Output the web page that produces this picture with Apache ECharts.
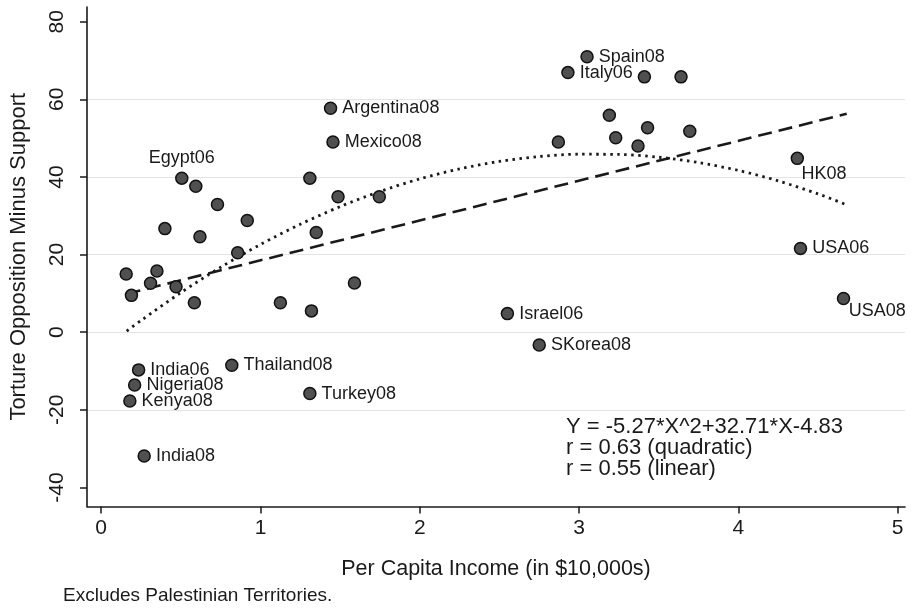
<!DOCTYPE html>
<html>
<head>
<meta charset="utf-8">
<script src="https://cdn.jsdelivr.net/npm/echarts@6/dist/echarts.min.js"></script>
<style>
  html, body { margin: 0; padding: 0; background: #fff; }
  #chart { width: 912px; height: 608px; }
</style>
</head>
<body>
<div id="chart"></div>
<script>
// ---- data ----
const pointX = [0.157, 0.19, 0.35, 0.31, 0.47, 0.585, 0.40, 0.506, 0.594, 0.73, 0.62, 0.917, 0.857,
  1.125, 1.32, 1.31, 1.35, 1.487, 1.59, 1.746, 1.455, 1.44, 2.55, 2.75,
  0.235, 0.21, 0.18, 0.82, 1.31, 0.27,
  3.05, 2.93, 3.41, 3.64, 3.19, 3.43, 3.695, 3.23, 2.87, 3.37,
  4.37, 4.39, 4.66];
const pointY = [15, 9.5, 15.8, 12.6, 11.7, 7.6, 26.7, 39.7, 37.6, 32.9, 24.6, 28.8, 20.5,
  7.6, 5.5, 39.7, 25.7, 34.9, 12.7, 34.9, 49.0, 57.7, 4.8, -3.3,
  -9.7, -13.6, -17.7, -8.5, -15.8, -31.9,
  71.0, 66.9, 65.8, 65.8, 55.9, 52.7, 51.8, 50.1, 49.0, 48.0,
  44.8, 21.6, 8.7];
const pointName = ['', '', '', '', '', '', '', 'Egypt06', '', '', '', '', '',
  '', '', '', '', '', '', '', 'Mexico08', 'Argentina08', 'Israel06', 'SKorea08',
  'India06', 'Nigeria08', 'Kenya08', 'Thailand08', 'Turkey08', 'India08',
  'Spain08', 'Italy06', '', '', '', '', '', '', '', '',
  'HK08', 'USA06', 'USA08'];

// quadratic fit curve (dotted), sampled values
const quadX = [0.16, 0.25, 0.5, 0.75, 1.0, 1.25, 1.5, 1.75, 2.0, 2.25, 2.5, 2.75, 3.0, 3.25, 3.5, 3.75, 4.0, 4.25, 4.5, 4.68];
const quadY = [0.27, 3.02, 10.21, 16.74, 22.61, 27.82, 32.38, 36.27, 39.51, 42.09, 44.01, 45.27, 45.87, 45.81, 45.10, 43.72, 41.69, 39.00, 35.65, 32.82];
// linear fit line (dashed)
const linX = [0.16, 4.68];
const linY = [9.9, 56.3];

const xTicks = [0, 1, 2, 3, 4, 5];
const yTicks = [-40, -20, 0, 20, 40, 60, 80];

const noteLines = ['Y = -5.27*X^2+32.71*X-4.83', 'r = 0.63 (quadratic)', 'r = 0.55 (linear)'];
const footnote = 'Excludes Palestinian Territories.';
const xTitle = 'Per Capita Income (in $10,000s)';
const yTitle = 'Torture Opposition Minus Support';

// ---- chart ----
const FONT = '"Liberation Sans", Arial, Helvetica, sans-serif';
const INK = '#1a1a1a';

const labelPlacement = {
  'Egypt06': { position: 'top', distance: 4 },
  'HK08': { position: [11, 22], align: 'left', verticalAlign: 'middle' },
  'USA08': { position: [12, 19], align: 'left', verticalAlign: 'middle' }
};

const scatterData = pointX.map((x, i) => {
  const d = { value: [x, pointY[i]], name: pointName[i] };
  if (pointName[i] && labelPlacement[pointName[i]]) {
    d.label = labelPlacement[pointName[i]];
  }
  return d;
});

const chart = echarts.init(document.getElementById('chart'), null, { renderer: 'canvas' });
chart.setOption({
  animation: false,
  backgroundColor: '#fff',
  textStyle: { fontFamily: FONT },
  grid: { left: 85, right: 7, top: 7, bottom: 101.5, containLabel: false },
  xAxis: {
    type: 'value',
    min: -0.089, max: 5.046,
    splitNumber: 5,
    name: xTitle,
    nameLocation: 'middle',
    nameGap: 52,
    nameTextStyle: { fontSize: 21.5, color: INK, fontFamily: FONT },
    axisLine: { show: true, onZero: false, lineStyle: { color: INK, width: 1.6 } },
    axisTick: { show: true, length: 7, customValues: xTicks, lineStyle: { color: INK, width: 1.5 } },
    axisLabel: { customValues: xTicks, fontSize: 21, color: INK, margin: 11, fontFamily: FONT },
    splitLine: { show: false }
  },
  yAxis: {
    type: 'value',
    min: -44.9, max: 83.8,
    splitNumber: 7,
    name: yTitle,
    nameLocation: 'middle',
    nameRotate: 90,
    nameGap: 57,
    nameTextStyle: { fontSize: 22, color: INK, fontFamily: FONT },
    axisLine: { show: true, onZero: false, lineStyle: { color: INK, width: 1.6 } },
    axisTick: { show: true, length: 7, customValues: yTicks, lineStyle: { color: INK, width: 1.5 } },
    axisLabel: { customValues: yTicks, rotate: 90, fontSize: 21, color: INK, margin: 19, fontFamily: FONT },
    splitLine: { show: true, showMinLine: false, showMaxLine: false, lineStyle: { color: '#e4e4e4', width: 1.2 } }
  },
  graphic: [
    {
      type: 'group', left: 566, top: 416,
      children: noteLines.map((t, i) => ({
        type: 'text', x: 0, y: i * 21,
        style: { text: t, fontSize: 22, fontFamily: FONT, fill: INK }
      }))
    },
    {
      type: 'text', left: 63, top: 586,
      style: { text: footnote, fontSize: 19, fontFamily: FONT, fill: INK }
    }
  ],
  series: [
    {
      type: 'line',
      data: linX.map((x, i) => [x, linY[i]]),
      showSymbol: false, silent: true,
      lineStyle: { color: INK, width: 2.6, type: [14, 7] },
      z: 2
    },
    {
      type: 'line',
      data: quadX.map((x, i) => [x, quadY[i]]),
      showSymbol: false, silent: true, smooth: 0.3,
      lineStyle: { color: INK, width: 2.8, type: [2.5, 4.5] },
      z: 2
    },
    {
      type: 'scatter',
      data: scatterData,
      symbol: 'circle',
      symbolSize: 12,
      itemStyle: { color: '#505050', borderColor: '#111', borderWidth: 1.5, opacity: 1 },
      label: {
        show: true,
        position: 'right',
        distance: 5,
        formatter: p => p.name || '',
        fontSize: 18,
        fontFamily: FONT,
        color: INK
      },
      z: 3
    }
  ]
});
</script>
</body>
</html>
